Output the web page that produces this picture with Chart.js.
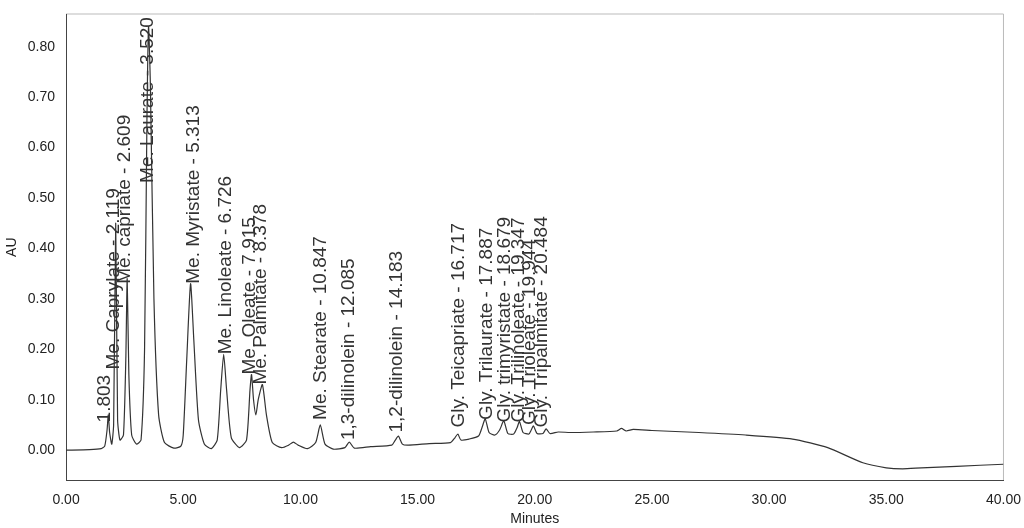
<!DOCTYPE html>
<html>
<head>
<script src="https://cdn.jsdelivr.net/npm/chart.js@4"></script>
<style>
  html, body { margin: 0; padding: 0; background: #fff; }
  #wrap { width: 1024px; height: 528px; }
</style>
</head>
<body>
<div id="wrap"><canvas id="myChart" width="1024" height="528"></canvas></div>
<script>
// chromatogram trace
const times = [0, 1.0, 1.5, 1.65, 1.75, 1.803, 1.86, 1.95, 2.03, 2.119, 2.2, 2.3, 2.45, 2.55, 2.609, 2.68, 2.8, 3.0, 3.2, 3.35, 3.45, 3.52, 3.6, 3.75, 3.95, 4.2, 4.6, 4.9, 5.0, 5.15, 5.313, 5.45, 5.65, 5.9, 6.2, 6.45, 6.6, 6.726, 6.85, 7.05, 7.4, 7.7, 7.85, 7.915, 8.0, 8.1, 8.2, 8.378, 8.55, 8.8, 9.2, 9.5, 9.7, 9.9, 10.3, 10.65, 10.847, 11.05, 11.4, 11.9, 12.085, 12.3, 13.0, 13.9, 14.05, 14.183, 14.35, 14.6, 15.5, 16.4, 16.6, 16.717, 16.85, 17.2, 17.6, 17.75, 17.887, 18.05, 18.3, 18.5, 18.679, 18.85, 19.1, 19.25, 19.347, 19.5, 19.75, 19.85, 19.944, 20.1, 20.35, 20.484, 20.65, 21.0, 21.5, 22.5, 23.5, 23.7, 23.9, 24.2, 25.0, 27.0, 29.0, 31.0, 32.5, 34.0, 35.0, 35.7, 36.5, 38.0, 40.0];
const absorb = [0, 0.001, 0.003, 0.008, 0.04, 0.07, 0.035, 0.012, 0.05, 0.45, 0.06, 0.02, 0.03, 0.18, 0.34, 0.15, 0.03, 0.012, 0.02, 0.2, 0.65, 0.84, 0.72, 0.3, 0.07, 0.015, 0.004, 0.008, 0.03, 0.18, 0.33, 0.22, 0.06, 0.012, 0.003, 0.02, 0.12, 0.19, 0.12, 0.025, 0.005, 0.02, 0.12, 0.15, 0.1, 0.07, 0.1, 0.13, 0.07, 0.015, 0.005, 0.01, 0.016, 0.01, 0.003, 0.015, 0.05, 0.012, 0.002, 0.005, 0.016, 0.004, 0.007, 0.01, 0.02, 0.028, 0.012, 0.01, 0.013, 0.015, 0.025, 0.032, 0.02, 0.022, 0.028, 0.045, 0.062, 0.035, 0.03, 0.04, 0.058, 0.033, 0.032, 0.045, 0.057, 0.035, 0.032, 0.04, 0.048, 0.033, 0.033, 0.042, 0.033, 0.036, 0.035, 0.036, 0.038, 0.043, 0.038, 0.041, 0.039, 0.035, 0.03, 0.022, 0.005, -0.025, -0.035, -0.037, -0.035, -0.032, -0.028];

// peak annotations
const peakNames = ["1.803", "Me. Caprylate - 2.119", "Me. capriate - 2.609", "Me. Laurate - 3.520", "Me. Myristate - 5.313", "Me. Linoleate - 6.726", "Me. Oleate - 7.915", "Me. Palmitate - 8.378", "Me. Stearate - 10.847", "1,3-dilinolein - 12.085", "1,2-dilinolein - 14.183", "Gly. Teicapriate - 16.717", "Gly. Trilaurate - 17.887", "Gly. trimyristate - 18.679", "Gly. Trilinoleate - 19.347", "Gly. Trioleate - 19.944", "Gly. Tripalmitate - 20.484"];
const peakTimes = [1.65, 2.05, 2.5, 3.5, 5.45, 6.8, 7.85, 8.3, 10.85, 12.05, 14.1, 16.75, 17.95, 18.7, 19.3, 19.8, 20.3];
const labelStart = [0.055, 0.16, 0.33, 0.53, 0.33, 0.19, 0.15, 0.13, 0.06, 0.02, 0.035, 0.045, 0.06, 0.055, 0.055, 0.05, 0.045];

const points = times.map((t, i) => ({x: t, y: absorb[i]}));

const peakLabels = {
  id: 'peakLabels',
  afterDatasetsDraw(chart) {
    const {ctx, scales} = chart;
    ctx.save();
    ctx.fillStyle = '#333';
    ctx.font = '19px "Liberation Sans", Arial, sans-serif';
    ctx.textAlign = 'left';
    ctx.textBaseline = 'middle';
    for (let i = 0; i < peakNames.length; i++) {
      const px = scales.x.getPixelForValue(peakTimes[i]);
      const py = scales.y.getPixelForValue(labelStart[i]);
      ctx.save();
      ctx.translate(px, py);
      ctx.rotate(-Math.PI / 2);
      ctx.fillText(peakNames[i], 0, 0);
      ctx.restore();
    }
    ctx.restore();
  }
};

const frame = {
  id: 'frame',
  beforeDraw(chart) {
    const {ctx, chartArea: a} = chart;
    ctx.save();
    ctx.strokeStyle = '#bbb';
    ctx.lineWidth = 1;
    ctx.beginPath();
    ctx.moveTo(a.left, a.top); ctx.lineTo(a.right, a.top); ctx.lineTo(a.right, a.bottom);
    ctx.stroke();
    ctx.restore();
  }
};

new Chart("myChart", {
  type: 'scatter',
  data: {
    datasets: [{
      data: points,
      showLine: true,
      borderColor: '#333',
      borderWidth: 1.2,
      pointRadius: 0,
      tension: 0.2
    }]
  },
  options: {
    responsive: false,
    animation: false,
    layout: {padding: {top: 14, right: 20, left: 0, bottom: 0}},
    plugins: {legend: {display: false}, tooltip: {enabled: false}},
    scales: {
      x: {
        type: 'linear', min: 0, max: 40,
        grid: {display: false, drawTicks: true},
        border: {color: '#444'},
        ticks: {stepSize: 5, color: '#222', font: {size: 14, family: '"Liberation Sans", Arial'}, callback: v => v.toFixed(2)},
        title: {display: true, text: 'Minutes', color: '#222', font: {size: 14, family: '"Liberation Sans", Arial'}, padding: 0}
      },
      y: {
        min: -0.06, max: 0.865,
        afterBuildTicks(scale) {
          scale.ticks = [0, 0.1, 0.2, 0.3, 0.4, 0.5, 0.6, 0.7, 0.8].map(v => ({value: v}));
        },
        grid: {display: false},
        border: {color: '#444'},
        ticks: {color: '#222', font: {size: 14, family: '"Liberation Sans", Arial'}, callback: v => v.toFixed(2)},
        title: {display: true, text: 'AU', color: '#222', font: {size: 14, family: '"Liberation Sans", Arial'}}
      }
    }
  },
  plugins: [frame, peakLabels]
});
</script>
</body>
</html>
